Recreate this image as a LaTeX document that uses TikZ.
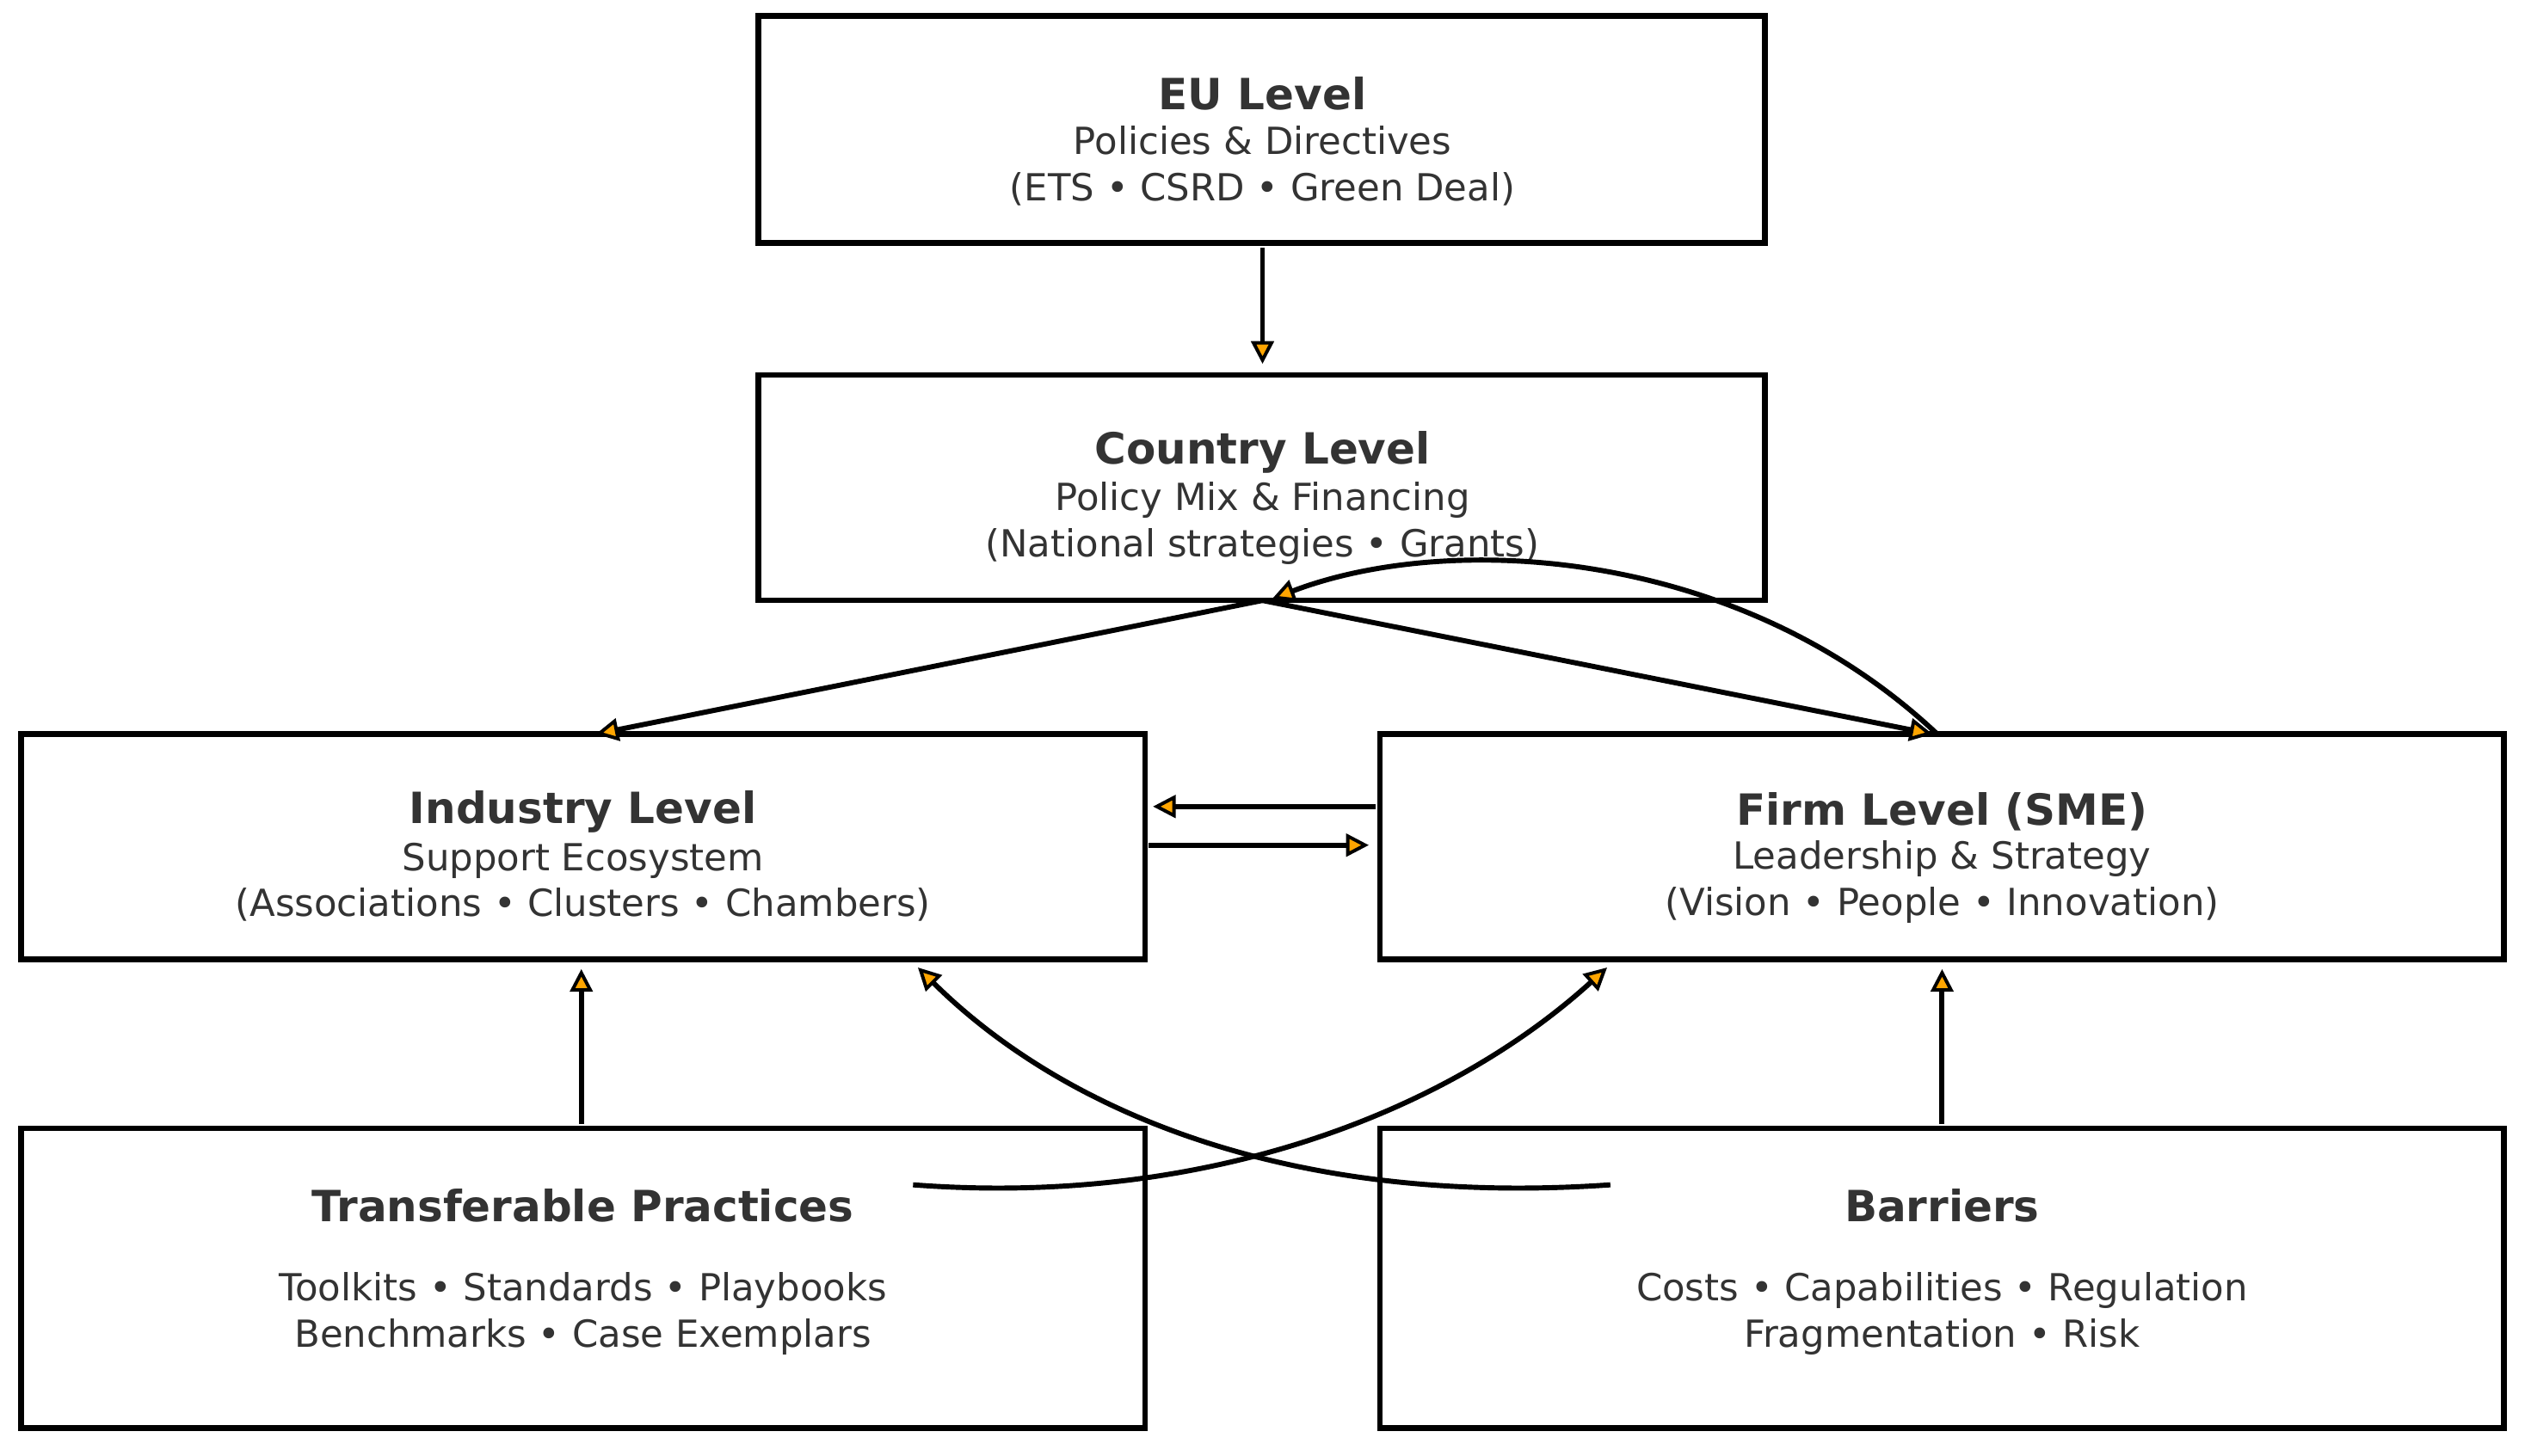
\documentclass[tikz,border=0pt]{standalone}
\usepackage{fontspec}
\setmainfont{DejaVu Sans}
\usetikzlibrary{arrows.meta}
\definecolor{txt}{HTML}{333333}
\definecolor{tipc}{HTML}{FFA500}
\begin{document}
\begin{tikzpicture}[x=0.05cm,y=-0.05cm,
  box/.style={draw=black,line width=5pt,fill=white},
  ttl/.style={text=txt,font=\fontsize{38}{44}\selectfont\bfseries,inner sep=0},
  sub/.style={text=txt,font=\fontsize{33}{41}\selectfont,align=center,inner sep=0},
  arr/.style={line width=4.5pt,-{Triangle[length=20pt,width=20pt,fill=tipc,line width=3pt]}}]
\useasboundingbox[fill=white] (0,0) rectangle (1568,904);
\draw[box] (471,10) rectangle (1096,151) coordinate (euBR);
\node[ttl] (eut) at (784,58) {EU Level};
\node[sub] (eus) at (784,103) {Policies \& Directives\\(ETS • CSRD • Green Deal)};
\draw[box] (471,233) rectangle (1096,373);
\node[ttl] (cot) at (784,281) {Country Level};
\node[sub] (cos) at (784,325) {Policy Mix \& Financing\\(National strategies • Grants)};
\draw[box] (13,456) rectangle (711,596);
\node[ttl] (int) at (362,504) {Industry Level};
\node[sub] (ins) at (362,548) {Support Ecosystem\\(Associations • Clusters • Chambers)};
\draw[box] (857,456) rectangle (1555,596);
\node[ttl] (fit) at (1206,504) {Firm Level (SME)};
\node[sub] (fis) at (1206,548) {Leadership \& Strategy\\(Vision • People • Innovation)};
\draw[box] (13,701) rectangle (711,887);
\node[ttl] (trt) at (362,749) {Transferable Practices};
\node[sub] (trs) at (362,816) {Toolkits • Standards • Playbooks\\Benchmarks • Case Exemplars};
\draw[box] (857,701) rectangle (1555,887);
\node[ttl] (bat) at (1206,749) {Barriers};
\node[sub] (bas) at (1206,816) {Costs • Capabilities • Regulation\\Fragmentation • Risk};
\coordinate (euB) at (784,154);
\coordinate (coT) at (784,226);
\coordinate (coB) at (784,373);
\coordinate (coB2) at (790,372);
\coordinate (inT) at (370,456);
\coordinate (fiT) at (1200,456);
\coordinate (fiT2) at (1203,456);
\coordinate (fiL) at (854,501);
\coordinate (inR) at (716,501);
\coordinate (inR2) at (713,525);
\coordinate (fiL2) at (850,525);
\coordinate (trT) at (361,698);
\coordinate (inB) at (361,602);
\coordinate (baT) at (1206,698);
\coordinate (fiB) at (1206,602);
\coordinate (trS) at (567,736);
\coordinate (fiB2) at (998,601);
\coordinate (baS) at (1000,736);
\coordinate (inB2) at (570,601);
\draw[arr] (euB) -- (coT);
\draw[arr] (coB) -- (inT);
\draw[arr] (coB) -- (fiT);
\draw[arr] (fiT2) .. controls (1080,340) and (900,330) .. (coB2);
\draw[arr] (fiL) -- (inR);
\draw[arr] (inR2) -- (fiL2);
\draw[arr] (trT) -- (inB);
\draw[arr] (baT) -- (fiB);
\draw[arr] (trS) .. controls (750,750) and (900,690) .. (fiB2);
\draw[arr] (baS) .. controls (800,750) and (660,690) .. (inB2);
\end{tikzpicture}
\end{document}
